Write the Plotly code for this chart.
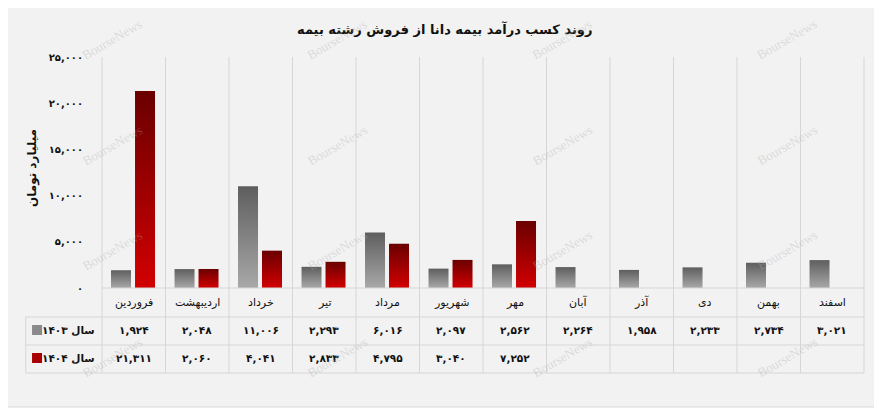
import plotly.graph_objects as go

# ---------------- data ----------------
months = ["فروردین", "اردیبهشت", "خرداد", "تیر", "مرداد", "شهریور",
          "مهر", "آبان", "آذر", "دی", "بهمن", "اسفند"]
sales_1403 = [1924, 2048, 11006, 2293, 6016, 2097, 2562, 2264, 1958, 2233, 2734, 3021]
sales_1404 = [21311, 2060, 4041, 2833, 4795, 3040, 7252, None, None, None, None, None]
series_names = ["سال ۱۴۰۳", "سال ۱۴۰۴"]
y_ticks = [0, 5000, 10000, 15000, 20000, 25000]
title_text = "روند کسب درآمد بیمه دانا از فروش رشته بیمه"
y_title = "میلیارد تومان"
watermark = "BourseNews"

# ---------------- style ----------------
W, H = 882, 413          # page size
OFF = 8                  # page body margin
PL, PR, PT, PB = 102, 864.5, 57, 288   # plot area in page pixels
FONT = "DejaVu Sans"
GRID = "#d6d6d6"
gray_grad = ["#a8a8a8", "#5e5e5e"]   # bottom, top
red_grad = ["#d20000", "#6a0000"]
bar_offsets = [(-0.358, -0.043), (0.020, 0.335)]

FA = str.maketrans("0123456789", "۰۱۲۳۴۵۶۷۸۹")


def fa(n):
    return f"{n:,}".translate(FA)


def px_x(px):
    return (px - PL) / (PR - PL)


def px_y(py):
    return (PB - py) / (PB - PT)


fig = go.Figure()

for vals, grad, (o0, o1) in [(sales_1403, gray_grad, bar_offsets[0]),
                             (sales_1404, red_grad, bar_offsets[1])]:
    for i, v in enumerate(vals):
        if v is None:
            continue
        x0, x1 = i + o0, i + o1
        fig.add_trace(go.Scatter(
            x=[x0, x0, x1, x1, x0], y=[0, v, v, 0, 0],
            mode="lines", fill="toself", line=dict(width=0),
            fillgradient=dict(type="vertical",
                              colorscale=[[0, grad[0]], [1, grad[1]]]),
            hoverinfo="text", text=f"{months[i]}: {fa(v)}",
            showlegend=False))

shapes = []
# outer panel
shapes.append(dict(type="rect", xref="paper", yref="paper",
                   x0=px_x(5), x1=px_x(877), y0=px_y(407), y1=px_y(3),
                   fillcolor="#f2f2f2", line=dict(color="#d9d9d9", width=1),
                   layer="below"))
# vertical column lines
ncol = len(months)
colw = (PR - PL) / ncol
for k in range(ncol + 1):
    xx = PL + k * colw
    shapes.append(dict(type="line", xref="paper", yref="paper",
                       x0=px_x(xx), x1=px_x(xx), y0=px_y(PT), y1=px_y(373),
                       line=dict(color=GRID, width=1)))
# table horizontal lines
shapes.append(dict(type="line", xref="paper", yref="paper",
                   x0=0, x1=1, y0=0, y1=0, line=dict(color=GRID, width=1)))
for yy in [317, 345, 373]:
    shapes.append(dict(type="line", xref="paper", yref="paper",
                       x0=px_x(25.7), x1=1, y0=px_y(yy), y1=px_y(yy),
                       line=dict(color=GRID, width=1)))
shapes.append(dict(type="line", xref="paper", yref="paper",
                   x0=px_x(25.7), x1=px_x(25.7), y0=px_y(317), y1=px_y(373),
                   line=dict(color=GRID, width=1)))
# legend squares in table
for (yc, col) in [(330, "#8a8a8a"), (358, "#a80000")]:
    shapes.append(dict(type="rect", xref="paper", yref="paper",
                       x0=px_x(32), x1=px_x(42), y0=px_y(yc + 5), y1=px_y(yc - 5),
                       fillcolor=col, line=dict(width=0)))

annotations = []


def ann(text, x, y, size, xref="paper", xanchor="center", angle=0,
        family=FONT, color="#111"):
    annotations.append(dict(text=text, xref=xref, yref="paper", x=x, y=y,
                            xanchor=xanchor, yanchor="middle", showarrow=False,
                            textangle=angle,
                            font=dict(family=family, size=size, color=color)))


ann(f"<b>{title_text}</b>", px_x(445), px_y(29), 13)
ann(f"<b>{y_title}</b>", px_x(32), px_y(168), 12, angle=-90)
# category header row
for i, m in enumerate(months):
    ann(m, i, px_y(302), 11, xref="x")
# data rows
for row, (vals, yc) in enumerate([(sales_1403, 330), (sales_1404, 358)]):
    ann(f"<b>{series_names[row]}</b>", px_x(97), px_y(yc), 10.5, xanchor="right")
    for i, v in enumerate(vals):
        if v is None:
            continue
        ann(f"<b>{fa(v)}</b>", i, px_y(yc), 10.5, xref="x")
# watermarks
for wy in [40, 145, 250, 357]:
    for wx in [112, 337, 562, 787]:
        ann(watermark, px_x(wx), px_y(wy), 13, angle=-30,
            family="Liberation Serif", color="rgba(170,170,170,0.35)")

fig.update_layout(
    width=W - OFF, height=H - OFF,
    margin=dict(l=PL - OFF, r=W - PR, t=PT - OFF, b=H - PB, pad=0),
    paper_bgcolor="white", plot_bgcolor="rgba(0,0,0,0)",
    shapes=shapes, annotations=annotations, showlegend=False,
    xaxis=dict(range=[-0.5, ncol - 0.5], showticklabels=False, showgrid=False,
               zeroline=False, showline=False, fixedrange=True),
    yaxis=dict(range=[0, 25000], tickvals=y_ticks,
               ticktext=[f"<b>{fa(t)}</b>" for t in y_ticks],
               showgrid=False, zeroline=False, showline=False,
               ticks="outside", ticklen=16, tickcolor="rgba(0,0,0,0)",
               tickfont=dict(family=FONT, size=10, color="#111"), fixedrange=True),
)

fig.write_html("out.html")
